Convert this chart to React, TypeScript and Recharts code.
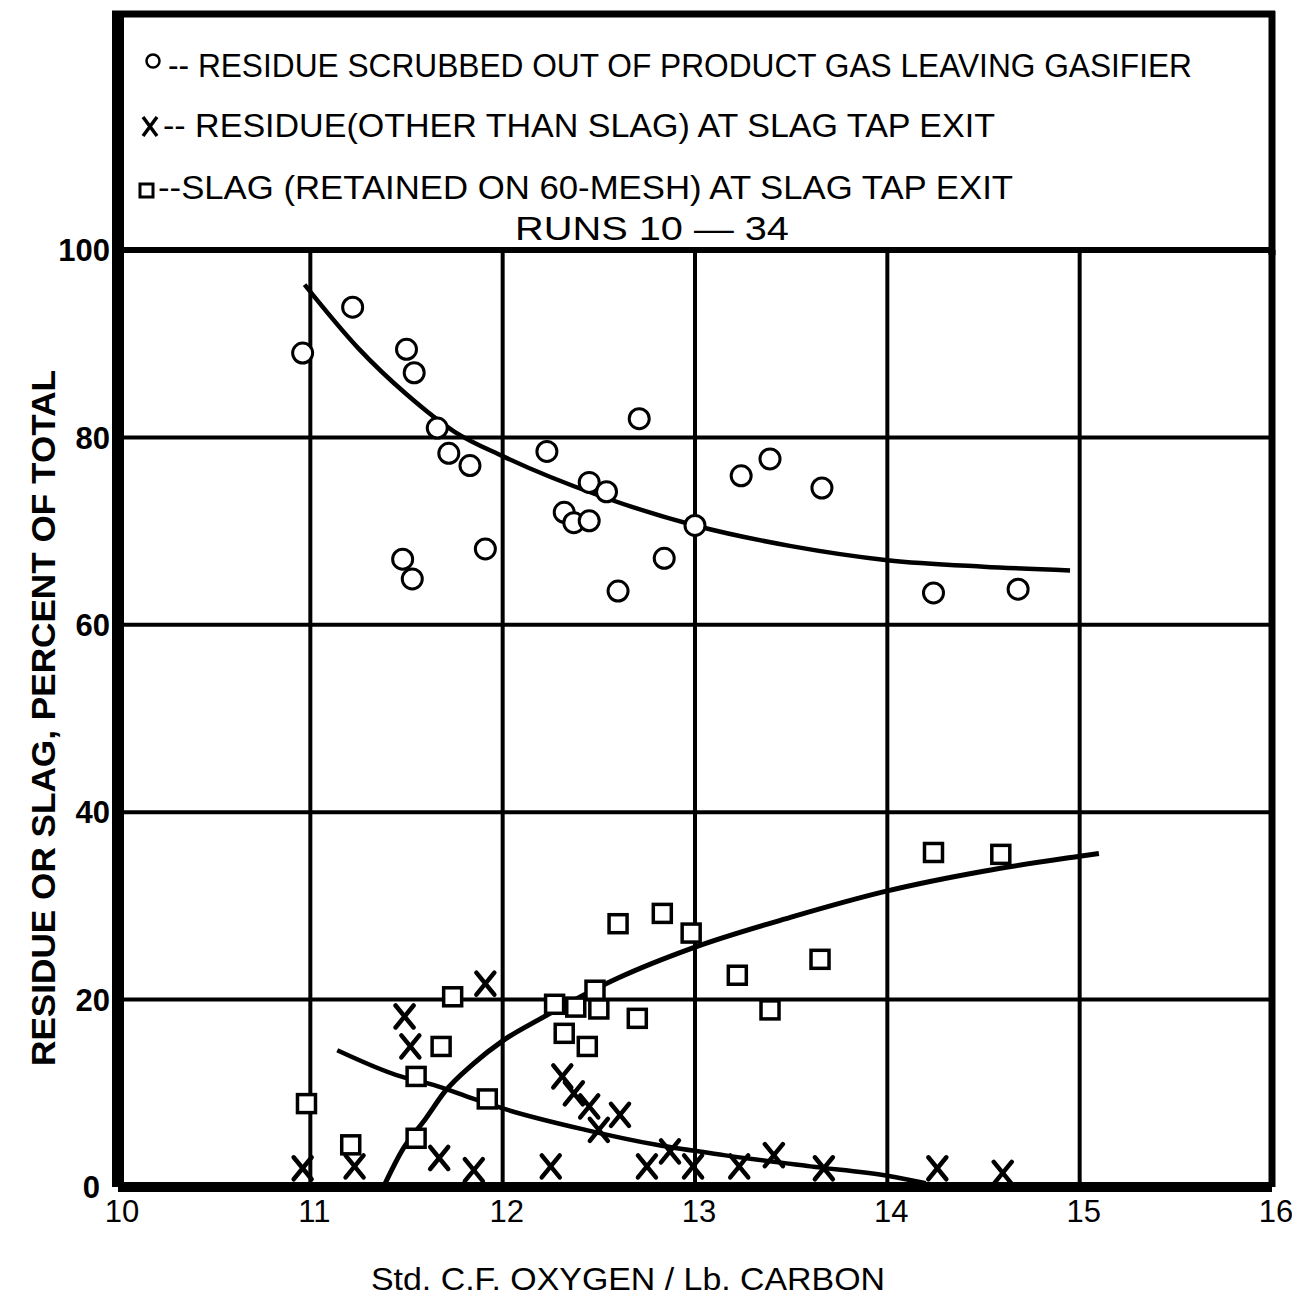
import React from "react";
import {
    ComposedChart,
    Scatter,
    Line,
    XAxis,
    YAxis,
    CartesianGrid,
    ReferenceLine,
    Legend,
} from "recharts";

// axis ticks
const xTicks = [10, 11, 12, 13, 14, 15, 16];
const yTicks = [0, 20, 40, 60, 80, 100];

// O -- residue scrubbed out of product gas leaving gasifier  [x, y]
const gasResidue = [
    [10.96, 89.0], [11.22, 93.9], [11.5, 89.4], [11.54, 86.9], [11.66, 81.0],
    [11.72, 78.3], [11.83, 77.0], [11.48, 67.0], [11.53, 64.9], [11.91, 68.1],
    [12.23, 78.5], [12.32, 72.0], [12.37, 70.9], [12.45, 75.2], [12.45, 71.1],
    [12.54, 74.2], [12.71, 82.0], [12.84, 67.1], [12.6, 63.6], [13.0, 70.6],
    [13.24, 75.9], [13.39, 77.7], [13.66, 74.6], [14.24, 63.4], [14.68, 63.8],
];

// X -- residue (other than slag) at slag tap exit
const tapResidue = [
    [10.96, 2.0], [11.23, 2.2], [11.49, 18.2], [11.52, 15.0], [11.91, 21.7],
    [11.67, 3.1], [11.85, 1.8], [12.25, 2.2], [12.31, 11.8], [12.37, 10.0],
    [12.45, 8.6], [12.5, 6.1], [12.61, 7.7], [12.75, 2.2], [12.87, 3.8],
    [12.99, 2.2], [13.23, 2.2], [13.41, 3.4], [13.67, 2.0], [14.26, 2.0],
    [14.6, 1.5],
];

// square -- slag (retained on 60-mesh) at slag tap exit
const slag = [
    [10.98, 8.9], [11.21, 4.5], [11.55, 11.8], [11.68, 15.0], [11.55, 5.2],
    [11.74, 20.3], [11.92, 9.4], [12.27, 19.5], [12.38, 19.2], [12.48, 21.0],
    [12.5, 19.0], [12.32, 16.4], [12.44, 15.0], [12.7, 18.0], [12.6, 28.1],
    [12.83, 29.2], [12.98, 27.1], [13.22, 22.6], [13.65, 24.3], [13.39, 18.9],
    [14.24, 35.7], [14.59, 35.5],
];

// hand drawn fitted curves
const gasCurve = [
    [10.97, 96.3], [11.25, 89.5], [11.5, 84.6], [11.75, 80.6], [12, 78.0],
    [12.5, 73.8], [13, 70.6], [13.5, 68.4], [14, 66.9], [14.5, 66.2], [14.95, 65.8],
];
const slagCurve = [
    [11.38, 0], [11.48, 4.0], [11.6, 7.3], [11.7, 10.2], [11.85, 13.2],
    [12, 15.6], [12.2, 18.0], [12.6, 22.3], [13, 25.6], [13.5, 28.8],
    [14, 31.6], [14.5, 33.7], [15, 35.3], [15.1, 35.6],
];
const tapCurve = [
    [11.14, 14.6], [11.47, 11.8], [11.64, 10.9], [11.85, 9.4], [12.03, 8.2],
    [12.43, 6.1], [12.8, 4.5], [13.15, 3.4], [13.6, 2.2], [14.0, 1.2], [14.2, 0.4],
];

const toPoints = (rows: number[][]) => rows.map(([x, y]) => ({ x, y }));

const FONT = "'Liberation Sans', Arial, sans-serif";

const CircleDot = (props: any) => (
    <circle cx={props.cx} cy={props.cy} r={10} fill="#fff" stroke="#000" strokeWidth={3} />
);

const SquareDot = (props: any) => (
    <rect x={props.cx - 9} y={props.cy - 9} width={18} height={18} fill="#fff" stroke="#000" strokeWidth={3.5} />
);

const CrossDot = (props: any) => {
    const { cx, cy } = props;
    return (
        <g stroke="#000" strokeWidth={4.5} strokeLinecap="round">
            <line x1={cx - 9} y1={cy - 11} x2={cx + 9} y2={cy + 11} />
            <line x1={cx + 9} y1={cy - 11} x2={cx - 9} y2={cy + 11} />
        </g>
    );
};

const XTick = (props: any) => (
    <text x={props.x + 4} y={props.y} dy="0.71em" textAnchor="middle" fontFamily={FONT} fontSize={31} fill="#000">
        {props.payload.value}
    </text>
);

const YTick = (props: any) => (
    <text
        x={props.payload.value === 0 ? props.x - 10 : props.x}
        y={props.y}
        dy="0.36em"
        textAnchor="end"
        fontFamily={FONT}
        fontWeight="bold"
        fontSize={31}
        fill="#000"
    >
        {props.payload.value}
    </text>
);

// legend box that sits on top of the plot, inside the outer frame
const LegendBox = () => (
    <svg width={1292} height={262} style={{ display: "block" }}>
        <line x1={112} y1={14} x2={1275} y2={14} stroke="#000" strokeWidth={7} />
        <line x1={118} y1={11} x2={118} y2={255} stroke="#000" strokeWidth={12} />
        <line x1={1272} y1={11} x2={1272} y2={255} stroke="#000" strokeWidth={7} />
        <g fontFamily={FONT} fill="#000" fontSize={34}>
            <circle cx={153} cy={61} r={6.5} fill="#fff" stroke="#000" strokeWidth={2.5} />
            <text x={168} y={77} textLength={1024} lengthAdjust="spacingAndGlyphs">
                -- RESIDUE SCRUBBED OUT OF PRODUCT GAS LEAVING GASIFIER
            </text>
            <g stroke="#000" strokeWidth={3.5}>
                <line x1={143} y1={117} x2={157} y2={136} />
                <line x1={157} y1={117} x2={143} y2={136} />
            </g>
            <text x={163} y={137} textLength={832} lengthAdjust="spacingAndGlyphs">
                -- RESIDUE(OTHER THAN SLAG) AT  SLAG TAP EXIT
            </text>
            <rect x={140} y={184} width={13} height={13} fill="#fff" stroke="#000" strokeWidth={3} />
            <text x={158} y={199} textLength={855} lengthAdjust="spacingAndGlyphs">
                --SLAG (RETAINED ON 60-MESH) AT SLAG TAP EXIT
            </text>
            <text x={515} y={240} fontSize={34} textLength={274} lengthAdjust="spacingAndGlyphs">
                RUNS  10 — 34
            </text>
        </g>
    </svg>
);

const App = () => {
    return (
        <div style={{ width: 1292, height: 1299, position: "relative", background: "#fff" }}>
            <style>{"body{margin:0;overflow:hidden;background:#fff}"}</style>
            <ComposedChart
                width={1292}
                height={1299}
                margin={{ top: 250, right: 20, bottom: 0, left: 0 }}
            >
                <CartesianGrid stroke="#000" strokeWidth={4} />
                <XAxis
                    type="number"
                    dataKey="x"
                    domain={[10, 16]}
                    ticks={xTicks}
                    height={112}
                    tickLine={false}
                    tickSize={0}
                    tickMargin={13}
                    axisLine={{ stroke: "#000", strokeWidth: 10 }}
                    tick={<XTick />}
                    allowDataOverflow
                />
                <YAxis
                    type="number"
                    dataKey="y"
                    domain={[0, 100]}
                    ticks={yTicks}
                    width={118}
                    tickLine={false}
                    tickSize={0}
                    tickMargin={8}
                    axisLine={{ stroke: "#000", strokeWidth: 12 }}
                    tick={<YTick />}
                    allowDataOverflow
                />
                <ReferenceLine y={100} stroke="#000" strokeWidth={6} />
                <ReferenceLine x={16} stroke="#000" strokeWidth={7} />
                <Legend
                    verticalAlign="middle"
                    layout="horizontal"
                    content={() => <LegendBox />}
                    wrapperStyle={{ top: 0, left: 0, width: 1292, height: 262 }}
                />
                <Line
                    data={toPoints(gasCurve)}
                    dataKey="y"
                    type="monotone"
                    stroke="#000"
                    strokeWidth={4.5}
                    dot={false}
                    activeDot={false}
                    legendType="none"
                    isAnimationActive={false}
                />
                <Line
                    data={toPoints(slagCurve)}
                    dataKey="y"
                    type="monotone"
                    stroke="#000"
                    strokeWidth={5}
                    dot={false}
                    activeDot={false}
                    legendType="none"
                    isAnimationActive={false}
                />
                <Line
                    data={toPoints(tapCurve)}
                    dataKey="y"
                    type="monotone"
                    stroke="#000"
                    strokeWidth={4.5}
                    dot={false}
                    activeDot={false}
                    legendType="none"
                    isAnimationActive={false}
                />
                <Scatter data={toPoints(gasResidue)} dataKey="y" shape={<CircleDot />} isAnimationActive={false} />
                <Scatter data={toPoints(slag)} dataKey="y" shape={<SquareDot />} isAnimationActive={false} />
                <Scatter data={toPoints(tapResidue)} dataKey="y" shape={<CrossDot />} isAnimationActive={false} />
                <text
                    x={43}
                    y={718}
                    transform="rotate(-90 43 718)"
                    textAnchor="middle"
                    dominantBaseline="central"
                    fontFamily={FONT}
                    fontWeight="bold"
                    fontSize={34}
                    textLength={696}
                    lengthAdjust="spacingAndGlyphs"
                >
                    RESIDUE OR SLAG, PERCENT OF TOTAL
                </text>
                <text
                    x={628}
                    y={1279}
                    textAnchor="middle"
                    dominantBaseline="central"
                    fontFamily={FONT}
                    fontSize={32}
                    textLength={514}
                    lengthAdjust="spacingAndGlyphs"
                >
                    Std. C.F. OXYGEN / Lb. CARBON
                </text>
            </ComposedChart>
        </div>
    );
};

export default App;
